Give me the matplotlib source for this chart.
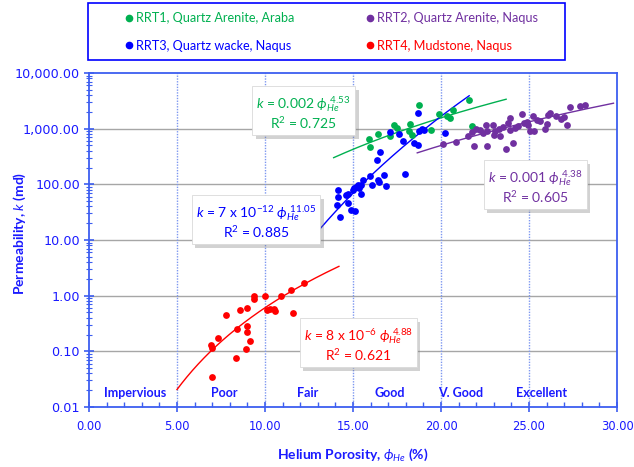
import numpy as np
import matplotlib
matplotlib.use("Agg")
import matplotlib.pyplot as plt
from matplotlib.ticker import FuncFormatter, LogLocator, MultipleLocator, NullFormatter
from matplotlib.patches import Rectangle
from matplotlib.lines import Line2D
import matplotlib.patheffects as pe

plt.rcParams["mathtext.fontset"] = "custom"
plt.rcParams["mathtext.rm"] = "Lato"
plt.rcParams["mathtext.it"] = "Lato:italic"
plt.rcParams["mathtext.bf"] = "Lato:bold"

# helium porosity (%) and permeability (md) per rock type
rrt1_phi = [15.93, 15.97, 16.44, 17.1, 17.33, 17.48, 18.24, 18.18, 18.34, 18.77,
            19.41, 19.9, 20.32, 20.51, 20.7, 21.6, 21.74]
rrt1_k = [653, 469, 813, 725, 1180, 1020, 1230, 890, 780, 2700,
          930, 1860, 1700, 1550, 2140, 3230, 1130]

rrt2_phi = [20.14, 20.85, 21.55, 21.88, 21.74, 22.22, 22.56, 22.63, 22.63, 22.97,
            23.07, 23.31, 23.35, 23.69, 23.82, 23.92, 24.11, 23.92, 24.2, 24.59,
            24.72, 24.96, 25.06, 25.25, 25.44, 25.91, 26.1, 26.53, 27.14, 27.33,
            27.9, 28.18, 22.0, 22.4, 23.5, 24.4, 24.9, 25.6, 26.0, 26.8,
            25.3, 23.0, 26.2, 27.0]
rrt2_k = [537, 565, 725, 494, 860, 960, 1180, 890, 494, 1180,
          890, 980, 725, 433, 1260, 960, 550, 1550, 1020, 1860,
          1260, 1180, 890, 1700, 1410, 980, 1780, 1700, 1180, 2450,
          2510, 2700, 1000, 820, 1080, 1100, 1300, 1400, 1200, 1500,
          900, 780, 1900, 1600]

rrt3_phi = [14.13, 14.17, 14.07, 14.28, 14.6, 14.73, 14.7, 14.9, 15.13, 15.02,
            15.17, 15.36, 15.44, 15.44, 15.07, 15.3, 15.59, 15.97, 16.1, 16.46,
            16.4, 16.78, 16.87, 17.97, 16.35, 16.55, 17.1, 17.6, 17.86, 18.47,
            18.71, 18.75, 18.9, 19.05, 18.71, 20.2]
rrt3_k = [78, 58, 43, 26, 65, 68, 46, 35, 33, 80,
          89, 85, 68, 98, 85, 98, 121, 143, 97, 112,
          118, 145, 92, 155, 277, 380, 880, 800, 600, 550,
          500, 890, 1000, 960, 1900, 830]

rrt4_phi = [7.0, 6.93, 7.0, 7.35, 7.78, 8.35, 8.43, 8.58, 8.99, 8.99,
            8.99, 9.15, 8.92, 9.38, 9.38, 10.0, 10.1, 10.28, 10.5, 10.57,
            10.89, 11.5, 11.6, 12.2]
rrt4_k = [0.035, 0.13, 0.115, 0.17, 0.45, 0.076, 0.25, 0.56, 0.6, 0.29,
          0.22, 0.155, 0.11, 1.0, 0.87, 1.0, 0.56, 0.58, 0.58, 0.52,
          1.0, 1.25, 0.49, 1.69]

# power-law fits k = a * phi^b, with the porosity span each trendline covers
fits = {
    "rrt1": (0.002, 4.53, 13.9, 23.7),
    "rrt2": (0.001, 4.38, 18.65, 29.8),
    "rrt3": (7e-12, 11.05, 13.1, 21.6),
    "rrt4": (8e-6, 4.88, 5.0, 14.2),
}

labels = {"rrt1": "RRT1, Quartz Arenite, Araba", "rrt2": "RRT2, Quartz Arenite, Naqus",
          "rrt3": "RRT3, Quartz wacke, Naqus", "rrt4": "RRT4, Mudstone, Naqus"}
colors = {"rrt1": "#00b050", "rrt2": "#7030a0", "rrt3": "#0000ff", "rrt4": "#ff0000"}

zones = ["Impervious", "Poor", "Fair", "Good", "V. Good", "Excellent"]
zone_x = [2.6, 7.7, 12.4, 17.1, 21.1, 25.7]

TXT = "#1a1aff"
AXC = "#3d5ef0"

fig = plt.figure(figsize=(6.34, 4.67), dpi=100)
ax = fig.add_axes([0.1404, 0.1285, 0.8328, 0.7152])

ax.set_yscale("log")
ax.set_xlim(0, 30)
ax.set_ylim(0.01, 10000)

# grid: grey decades, dotted blue porosity classes
for dec in [0.1, 1, 10, 100, 1000]:
    ax.axhline(dec, color="#a6a6a6", lw=1.0, zorder=0)
for xv in [5, 10, 15, 20, 25]:
    ax.axvline(xv, color="#7d97f0", lw=1.0, ls=(0, (1, 1)), zorder=0)

series = [("rrt1", rrt1_phi, rrt1_k), ("rrt2", rrt2_phi, rrt2_k),
          ("rrt3", rrt3_phi, rrt3_k), ("rrt4", rrt4_phi, rrt4_k)]
for key, phi, k in series:
    ax.scatter(phi, k, s=24, color=colors[key], zorder=3, linewidths=0)
    a, b, x0, x1 = fits[key]
    xs = np.linspace(x0, x1, 200)
    ax.plot(xs, a * xs ** b, color=colors[key], lw=1.0, zorder=2)

# axes styling
for sp in ax.spines.values():
    sp.set_color(AXC)
    sp.set_linewidth(1.3)
ax.xaxis.set_major_locator(MultipleLocator(5))
ax.xaxis.set_minor_locator(MultipleLocator(1))
ax.xaxis.set_major_formatter(FuncFormatter(lambda v, p: f"{v:.2f}"))
ax.yaxis.set_major_locator(LogLocator(base=10, numticks=10))
ax.yaxis.set_minor_locator(LogLocator(base=10, subs=np.arange(2, 10), numticks=10))
ax.yaxis.set_minor_formatter(NullFormatter())
ax.yaxis.set_major_formatter(FuncFormatter(lambda v, p: f"{v:,.2f}"))
ax.tick_params(axis="both", which="major", direction="inout", length=7, width=1.2,
               color=AXC, labelcolor=TXT, labelsize=8.3)
ax.tick_params(axis="y", which="major", labelsize=9.2, pad=3)
ax.tick_params(axis="x", which="major", pad=6)
ax.tick_params(axis="x", which="minor", direction="in", length=3.5, width=1.0, color=AXC)
ax.tick_params(axis="y", which="minor", direction="inout", length=4, width=0.8, color=AXC)

ax.set_xlabel(r"Helium Porosity, $\mathit{\phi}_{\mathbf{\mathit{He}}}$ (%)",
              fontfamily="Lato", fontweight="bold", fontsize=10, color=TXT)
ax.set_ylabel(r"Permeability, $\mathbf{\mathit{k}}$ (md)",
              fontfamily="Lato", fontweight="bold", fontsize=10, color=TXT)
ax.xaxis.set_label_coords(0.5, -0.118)
ax.yaxis.set_label_coords(-0.1155, 0.52)

for name, xv in zip(zones, zone_x):
    ax.text(xv, 0.018, name, ha="center", va="center", fontfamily="Lato",
            fontweight="bold", fontsize=9, color=TXT)

# equation boxes with a soft drop shadow
def eq_box(x, y, coef, expo, r2, color):
    txt = f"$k$ = {coef} $\\phi_{{He}}^{{\\ {expo}}}$\nR$^2$ = {r2}"
    t = ax.text(x, y, txt, ha="center", va="center", fontfamily="Lato",
                fontsize=10, color=color, linespacing=1.1, zorder=5,
                bbox=dict(boxstyle="square,pad=0.3", fc="white", ec="#d9d9d9", lw=0.6))
    t.get_bbox_patch().set_path_effects(
        [pe.SimplePatchShadow(offset=(2.5, -2.5), alpha=0.35, shadow_rgbFace="#808080"),
         pe.Normal()])

eq_box(12.2, 10 ** ((296 - 113) / 55.67), "0.002", "4.53", "0.725", colors["rrt1"])
eq_box(9.5, 10 ** ((296 - 222) / 55.67), "7 x 10$^{-12}$", "11.05", "0.885", colors["rrt3"])
eq_box(25.35, 10 ** ((296 - 187) / 55.67), "0.001", "4.38", "0.605", colors["rrt2"])
eq_box(15.3, 10 ** ((296 - 345) / 55.67), "8 x 10$^{-6}$", "4.88", "0.621", colors["rrt4"])

# legend panel above the plot
fig.add_artist(Rectangle((88 / 634, 1 - 60 / 467), (565 - 88) / 634, 57 / 467,
                         transform=fig.transFigure, fill=False, ec="#0000ff", lw=1.2))
order = ["rrt1", "rrt3", "rrt2", "rrt4"]
handles = [Line2D([], [], ls="", marker="o", ms=4.5, color=colors[k]) for k in order]
fig.legend(handles, [labels[k] for k in order], ncol=2, frameon=False, loc="upper left",
           bbox_to_anchor=(111 / 634, 1 - 1 / 467), columnspacing=5.45,
           handletextpad=0.1, handlelength=1.0, labelspacing=1.2,
           labelcolor=[colors[k] for k in order],
           prop={"family": "Lato", "size": 9.1})

fig.savefig("out.png", dpi=100)
